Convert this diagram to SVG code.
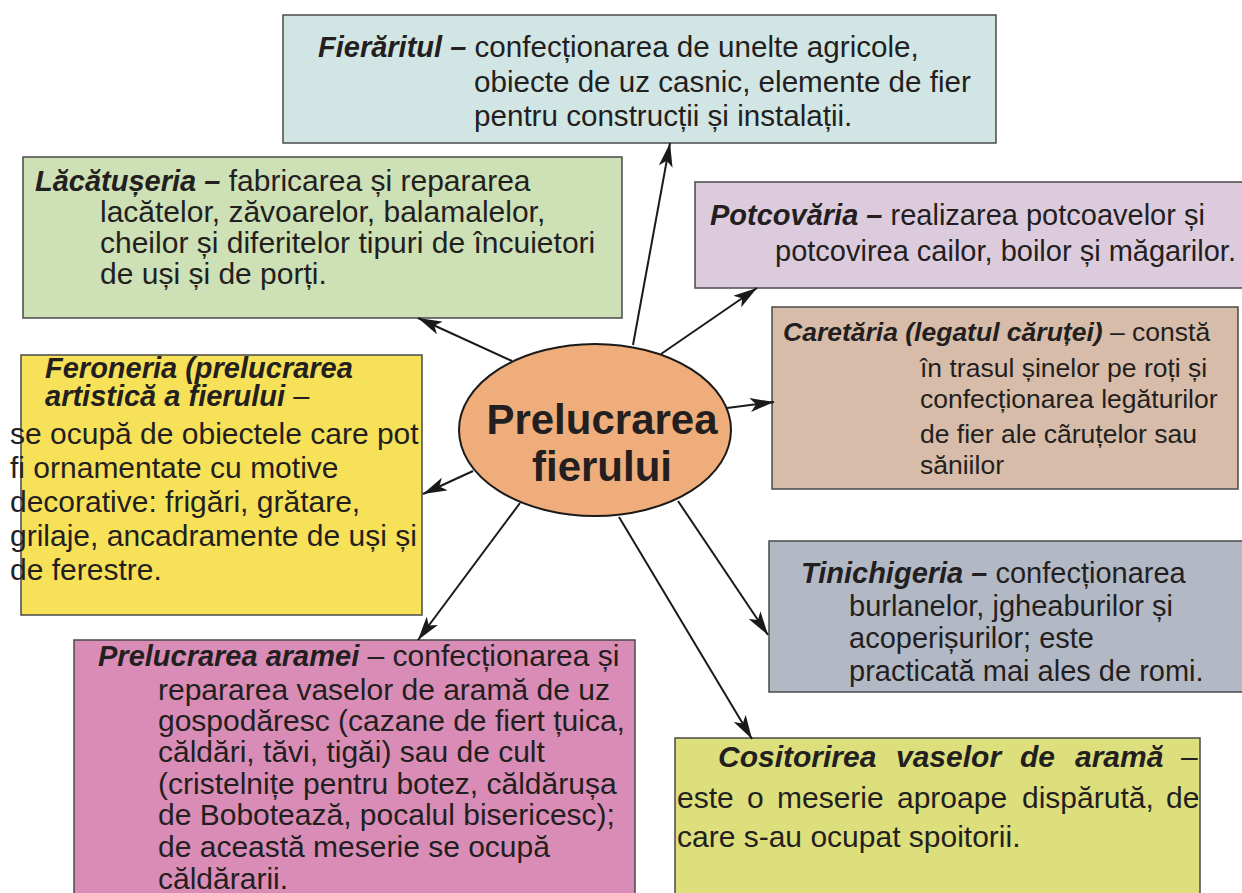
<svg xmlns="http://www.w3.org/2000/svg" width="1242" height="893" viewBox="0 0 1242 893">
<defs>
<style>
text{font-family:"Liberation Sans",Arial,sans-serif;fill:#231f20;font-size:30px}
.h{font-weight:bold;font-style:italic}
.n{font-weight:normal;font-style:normal}
.s29{font-size:29px}
.s26{font-size:26.5px}
.f{font-size:29.6px}
.c{font-size:42px;font-weight:bold;text-anchor:middle}
.box{stroke:#4a4a4a;stroke-width:1.5}
.con{stroke:#1a1a1a;stroke-width:2;fill:none;marker-end:url(#ah)}
</style>
<marker id="ah" markerUnits="userSpaceOnUse" markerWidth="26" markerHeight="14" refX="24" refY="7" orient="auto">
<path d="M0,0 L24,7 L0,14 L6,7 z" fill="#1a1a1a"/>
</marker>
</defs>
<rect width="1242" height="893" fill="#ffffff"/>

<g id="fieraritul">
<rect class="box" x="283" y="15" width="713" height="128" fill="#d1e5e4"/>
<text x="318" y="57" class="f"><tspan class="h s29">Fierăritul –</tspan> confecționarea de unelte agricole,</text>
<text x="474" y="92" class="f">obiecte de uz casnic, elemente de fier</text>
<text x="474" y="126" class="f">pentru construcții și instalații.</text>
</g>

<g id="lacatuseria">
<rect class="box" x="23" y="157" width="599" height="161" fill="#cde0b6"/>
<text x="35" y="191"><tspan class="h s29">Lăcătușeria –</tspan> fabricarea și repararea</text>
<text x="100" y="222">lacătelor, zăvoarelor, balamalelor,</text>
<text x="100" y="253">cheilor și diferitelor tipuri de încuietori</text>
<text x="100" y="284">de uși și de porți.</text>
</g>

<g id="feroneria">
<rect class="box" x="21" y="355" width="401" height="260" fill="#f7e158"/>
<text x="45" y="378" class="h s29">Feroneria (prelucrarea</text>
<text x="45" y="406" class="s29"><tspan class="h">artistică a fierului</tspan> –</text>
<text x="10" y="444">se ocupă de obiectele care pot</text>
<text x="10" y="478">fi ornamentate cu motive</text>
<text x="10" y="512">decorative: frigări, grătare,</text>
<text x="10" y="546">grilaje, ancadramente de uși și</text>
<text x="10" y="580">de ferestre.</text>
</g>

<g id="potcovaria">
<rect class="box" x="695" y="182" width="560" height="106" fill="#dccbdc"/>
<text x="710" y="225" class="s29"><tspan class="h">Potcovăria –</tspan> realizarea potcoavelor și</text>
<text x="775" y="261" class="s29">potcovirea cailor, boilor și măgarilor.</text>
</g>

<g id="caretaria">
<rect class="box" x="772" y="307" width="466" height="182" fill="#d7bca9"/>
<text x="783" y="341" class="s26"><tspan class="h">Caretăria (legatul căruței)</tspan> – constă</text>
<text x="920" y="377" class="s26">în trasul șinelor pe roți și</text>
<text x="920" y="408" class="s26">confecționarea legăturilor</text>
<text x="920" y="443" class="s26">de fier ale cãruțelor sau</text>
<text x="920" y="474" class="s26">săniilor</text>
</g>

<g id="center">
<ellipse cx="595" cy="430" rx="136" ry="86" fill="#eead7a" stroke="#1a1a1a" stroke-width="2"/>
<text x="602" y="434" class="c">Prelucrarea</text>
<text x="602" y="481" class="c">fierului</text>
</g>

<g id="tinichigeria">
<rect class="box" x="769" y="541" width="490" height="151" fill="#b3b8c5"/>
<text x="801" y="583" class="s29"><tspan class="h">Tinichigeria –</tspan> confecționarea</text>
<text x="849" y="616" class="s29">burlanelor, jgheaburilor și</text>
<text x="849" y="648" class="s29">acoperișurilor; este</text>
<text x="849" y="681" class="s29">practicată mai ales de romi.</text>
</g>

<g id="aramei">
<rect class="box" x="74" y="640" width="561" height="270" fill="#d98db6"/>
<text x="98" y="666"><tspan class="h s29">Prelucrarea aramei</tspan> – confecționarea și</text>
<text x="158" y="700">repararea vaselor de aramă de uz</text>
<text x="158" y="731">gospodăresc (cazane de fiert țuica,</text>
<text x="158" y="762">căldări, tăvi, tigăi) sau de cult</text>
<text x="158" y="794">(cristelnițe pentru botez, căldărușa</text>
<text x="158" y="825">de Bobotează, pocalul bisericesc);</text>
<text x="158" y="857">de această meserie se ocupă</text>
<text x="158" y="889">căldărarii.</text>
</g>

<g id="cositorirea">
<rect class="box" x="675" y="738" width="525" height="170" fill="#dcdf7c"/>
<text y="767" class="h"><tspan x="718">Cositorirea</tspan><tspan x="896">vaselor</tspan><tspan x="1020">de</tspan><tspan x="1075">aramă</tspan><tspan x="1181" class="n">–</tspan></text>
<text y="808"><tspan x="677">este</tspan><tspan x="747">o</tspan><tspan x="777">meserie</tspan><tspan x="897">aproape</tspan><tspan x="1022">dispărută,</tspan><tspan x="1166">de</tspan></text>
<text x="677" y="847">care s-au ocupat spoitorii.</text>
</g>

<g id="connectors">
<line class="con" x1="512" y1="361" x2="418" y2="318"/>
<line class="con" x1="633" y1="345" x2="670" y2="143"/>
<line class="con" x1="661" y1="354" x2="757" y2="288"/>
<line class="con" x1="727" y1="408" x2="774" y2="402"/>
<line class="con" x1="473" y1="471" x2="423" y2="494"/>
<line class="con" x1="520" y1="503" x2="418" y2="640"/>
<line class="con" x1="619" y1="517" x2="752" y2="739"/>
<line class="con" x1="678" y1="501" x2="768" y2="635"/>
</g>
</svg>
